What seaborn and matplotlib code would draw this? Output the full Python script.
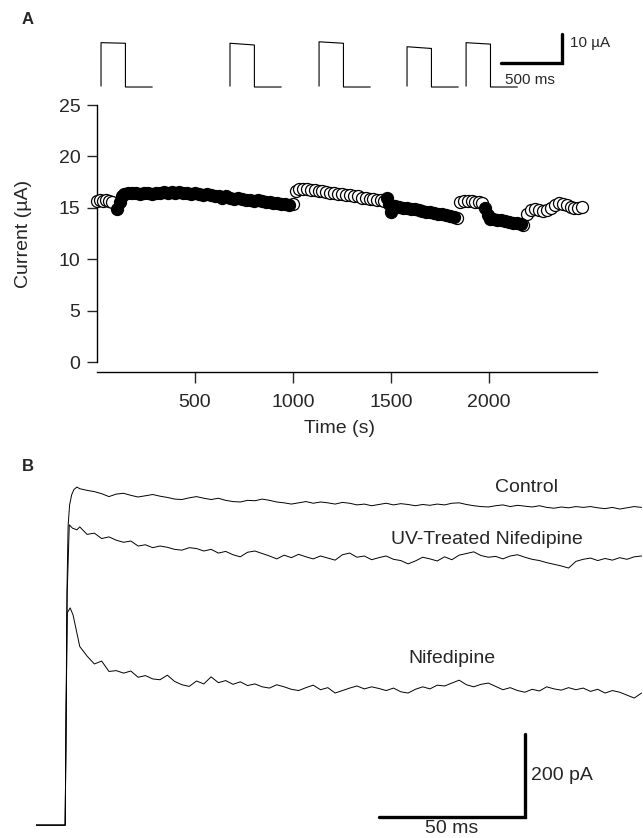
import numpy as np
import pandas as pd
import matplotlib
matplotlib.use("Agg")
import matplotlib.pyplot as plt
import seaborn as sns

# ==============================================================================
# DATA - panel A (peak current during the recording)
# ==============================================================================

# open circles = no drug / wash, filled circles = drug applied
open1_t = [0, 15, 30, 45, 60, 75]
open1_v = [15.7, 15.8, 15.7, 15.8, 15.7, 15.6]

filled1_t = [100, 115, 125, 140, 160, 180, 200, 220, 240, 260, 280, 300, 320, 340,
             360, 380, 400, 420, 440, 460, 480, 500, 520, 540, 560, 580, 600, 620,
             640, 660, 680, 700, 720, 740, 760, 780, 800, 820, 840, 860, 880, 900,
             920, 940, 960, 980]
filled1_v = [14.9, 15.6, 16.1, 16.3, 16.4, 16.4, 16.4, 16.3, 16.4, 16.4, 16.3, 16.4,
             16.4, 16.5, 16.4, 16.5, 16.4, 16.5, 16.4, 16.4, 16.3, 16.4, 16.3, 16.2,
             16.3, 16.2, 16.1, 16.1, 16.0, 16.1, 16.0, 15.9, 16.0, 15.9, 15.8, 15.8,
             15.7, 15.8, 15.7, 15.6, 15.6, 15.5, 15.5, 15.4, 15.4, 15.3]

open2_t = [1000, 1015, 1030, 1050, 1070, 1090, 1110, 1130, 1150, 1170, 1190, 1210,
           1230, 1250, 1270, 1290, 1310, 1330, 1350, 1370, 1390, 1410, 1430, 1450, 1465]
open2_v = [15.4, 16.6, 16.8, 16.8, 16.8, 16.7, 16.7, 16.6, 16.6, 16.5, 16.4, 16.4,
           16.3, 16.3, 16.2, 16.2, 16.1, 16.1, 16.0, 16.0, 15.9, 15.9, 15.8, 15.8, 15.7]

filled2_t = [1480, 1490, 1500, 1520, 1540, 1560, 1580, 1600, 1620, 1640, 1660, 1680,
             1700, 1720, 1740, 1760, 1780, 1800, 1820]
filled2_v = [16.0, 15.4, 14.6, 15.2, 15.1, 15.0, 15.0, 14.9, 14.9, 14.8, 14.7, 14.6,
             14.6, 14.5, 14.4, 14.4, 14.3, 14.2, 14.1]

open3_t = [1835, 1850, 1870, 1890, 1910, 1930, 1950, 1965]
open3_v = [14.0, 15.6, 15.7, 15.7, 15.7, 15.6, 15.6, 15.5]

filled3_t = [1980, 1995, 2005, 2020, 2040, 2060, 2080, 2100, 2120, 2140, 2160]
filled3_v = [15.0, 14.3, 13.9, 13.9, 13.8, 13.8, 13.7, 13.6, 13.5, 13.5, 13.4]

open4_t = [2175, 2195, 2215, 2235, 2255, 2275, 2295, 2315, 2335, 2355, 2375, 2395,
           2415, 2435, 2455, 2475]
open4_v = [13.3, 14.4, 14.8, 14.9, 14.8, 14.7, 14.8, 15.0, 15.3, 15.5, 15.4, 15.3,
           15.1, 15.0, 15.0, 15.1]

# example current traces above panel A (uA): top at pulse start / end
pulse_onset_ms = [33, 1090, 1820, 2541, 3025]
pulse_top_start = [15.3, 15.1, 15.6, 13.9, 15.3]
pulse_top_end = [15.1, 14.5, 15.1, 13.3, 14.8]

# ==============================================================================
# DATA - panel B (Ba current traces, pA)
# ==============================================================================

t_grid = [5.0 + 2.5 * k for k in range(78)]  # sample times of the plateau

control_rise_t = [-10, 0, 0.3, 0.6, 1.0, 1.5, 2.2, 3.0, 4.0]
control_rise_v = [0, 0, 250, 560, 720, 770, 795, 808, 814]
control_v = [810, 806, 803, 798, 791, 797, 799, 794, 790, 793, 796, 792, 789, 785,
             784, 788, 791, 787, 784, 787, 782, 779, 778, 782, 781, 785, 782, 778,
             776, 773, 776, 779, 775, 778, 776, 773, 777, 775, 771, 773, 769, 772,
             775, 771, 774, 772, 769, 772, 770, 773, 771, 775, 776, 772, 769, 767,
             766, 769, 771, 767, 770, 768, 766, 769, 765, 763, 766, 764, 767, 765,
             767, 764, 762, 765, 761, 764, 767, 765]

uv_rise_t = [-10, 0, 0.3, 0.7, 1.4, 2.5, 4.0]
uv_rise_v = [0, 0, 250, 560, 723, 715, 711]
uv_v = [718, 700, 703, 690, 694, 686, 681, 684, 672, 675, 668, 672, 669, 664, 662,
        668, 666, 660, 664, 655, 659, 651, 646, 657, 660, 654, 648, 641, 650, 644,
        652, 646, 641, 648, 643, 638, 651, 655, 645, 648, 639, 644, 648, 640, 637,
        629, 636, 645, 641, 636, 646, 639, 650, 654, 658, 649, 645, 647, 641, 648,
        651, 645, 640, 637, 632, 628, 624, 619, 635, 640, 643, 637, 642, 638, 644,
        640, 646, 648]

nif_rise_t = [-10, 0, 0.3, 0.7, 1.7, 2.7, 4.0]
nif_rise_v = [0, 0, 250, 511, 523, 506, 463]
nif_v = [430, 407, 388, 395, 370, 372, 366, 371, 356, 360, 352, 350, 361, 346, 338,
         334, 347, 340, 357, 343, 348, 339, 345, 336, 340, 333, 330, 338, 333, 327,
         324, 331, 337, 326, 331, 318, 324, 330, 335, 328, 333, 329, 324, 330, 321,
         318, 327, 333, 328, 337, 335, 342, 349, 338, 333, 339, 342, 334, 326, 331,
         324, 320, 327, 323, 333, 328, 325, 331, 326, 330, 322, 327, 318, 324, 320,
         313, 306, 318]

# ==============================================================================
# PLOT
# ==============================================================================

sns.set_theme(style="white")
plt.rcParams['font.family'] = ['Liberation Sans', 'DejaVu Sans']
FS = 14

W, H = 643, 838
fig = plt.figure(figsize=(W / 100, H / 100), dpi=100)


def px_box(x0, y0, x1, y1):
    # pixel box (top-left origin) -> figure fraction rect
    return [x0 / W, 1 - y1 / H, (x1 - x0) / W, (y1 - y0) / H]


# ---- panel A ----
segs = []
for name, t, v, kind in [("o1", open1_t, open1_v, "open"), ("f1", filled1_t, filled1_v, "filled"),
                         ("o2", open2_t, open2_v, "open"), ("f2", filled2_t, filled2_v, "filled"),
                         ("o3", open3_t, open3_v, "open"), ("f3", filled3_t, filled3_v, "filled"),
                         ("o4", open4_t, open4_v, "open")]:
    segs.append(pd.DataFrame({"Time": t, "Current": v, "kind": kind}))
dfA = pd.concat(segs, ignore_index=True)

axA = fig.add_axes(px_box(97, 105, 597, 362))
sns.scatterplot(data=dfA[dfA.kind == "open"], x="Time", y="Current", ax=axA,
                s=75, facecolor="white", edgecolor="black", linewidth=0.9, clip_on=False, zorder=3)
sns.scatterplot(data=dfA[dfA.kind == "filled"], x="Time", y="Current", ax=axA,
                s=75, color="black", edgecolor="black", linewidth=0.9, clip_on=False, zorder=4)
axA.set_xlim(0, 2550)
axA.set_ylim(0, 25)
axA.set_xticks([500, 1000, 1500, 2000])
axA.set_yticks([0, 5, 10, 15, 20, 25])
for s in ["top", "right"]:
    axA.spines[s].set_visible(False)
axA.spines["bottom"].set_position(("outward", 7))
for s in ["left", "bottom"]:
    axA.spines[s].set_color("black")
    axA.spines[s].set_linewidth(1.0)
axA.tick_params(axis="y", direction="out", length=7, width=1, pad=5, labelsize=FS, left=True)
axA.tick_params(axis="x", direction="out", length=8, width=1, pad=8, labelsize=FS, bottom=True)
axA.set_xlabel("Time (s)", fontsize=FS)
axA.set_ylabel("Current (µA)", fontsize=FS)
axA.yaxis.set_label_coords(-0.13, 0.5)
axA.xaxis.set_label_coords(0.486, -0.225)

# ---- current traces above panel A ----
axT = fig.add_axes(px_box(97, 25, 597, 95))
axT.set_xlim(0, 4098)
axT.set_ylim(-2.76, 21.4)
axT.axis("off")
for o, a, b in zip(pulse_onset_ms, pulse_top_start, pulse_top_end):
    sns.lineplot(x=[o, o, o + 200, o + 200, o + 420], y=[0.3, a, b, 0, 0], ax=axT,
                 color="black", lw=0.8, estimator=None, sort=False)
axT.plot([3311, 3811, 3811], [8.3, 8.3, 18.3], color="black", lw=2.4, solid_joinstyle="miter")
axT.text(3877, 15.2, "10 µA", fontsize=11, ha="left", va="center")
axT.text(3549, 2.4, "500 ms", fontsize=11, ha="center", va="center")

# ---- panel B ----
axB = fig.add_axes(px_box(36, 475, 643, 838))
axB.set_xlim(-10, 198)
axB.set_ylim(-31, 843)
axB.axis("off")
for rt, rv, vals in [(control_rise_t, control_rise_v, control_v),
                     (uv_rise_t, uv_rise_v, uv_v),
                     (nif_rise_t, nif_rise_v, nif_v)]:
    sns.lineplot(x=rt + t_grid, y=rv + vals, ax=axB, color="black", lw=0.7,
                 estimator=None, sort=False)

axB.text(158, 814, "Control", fontsize=FS, ha="center", va="center")
axB.text(144.5, 687, "UV-Treated Nifedipine", fontsize=FS, ha="center", va="center")
axB.text(132.6, 400, "Nifedipine", fontsize=FS, ha="center", va="center")

# scale bar 50 ms / 200 pA
axB.plot([107.5, 157.5, 157.5], [19, 19, 219], color="black", lw=2.4, solid_joinstyle="miter")
axB.text(159.5, 120, "200 pA", fontsize=FS, ha="left", va="center")
axB.text(132.5, -7, "50 ms", fontsize=FS, ha="center", va="center")

# panel letters
fig.text(28 / W, 1 - 20 / H, "A", fontsize=12, fontweight="bold", ha="center", va="center")
fig.text(28 / W, 1 - 466 / H, "B", fontsize=12, fontweight="bold", ha="center", va="center")

plt.savefig("out.png", dpi=100)
